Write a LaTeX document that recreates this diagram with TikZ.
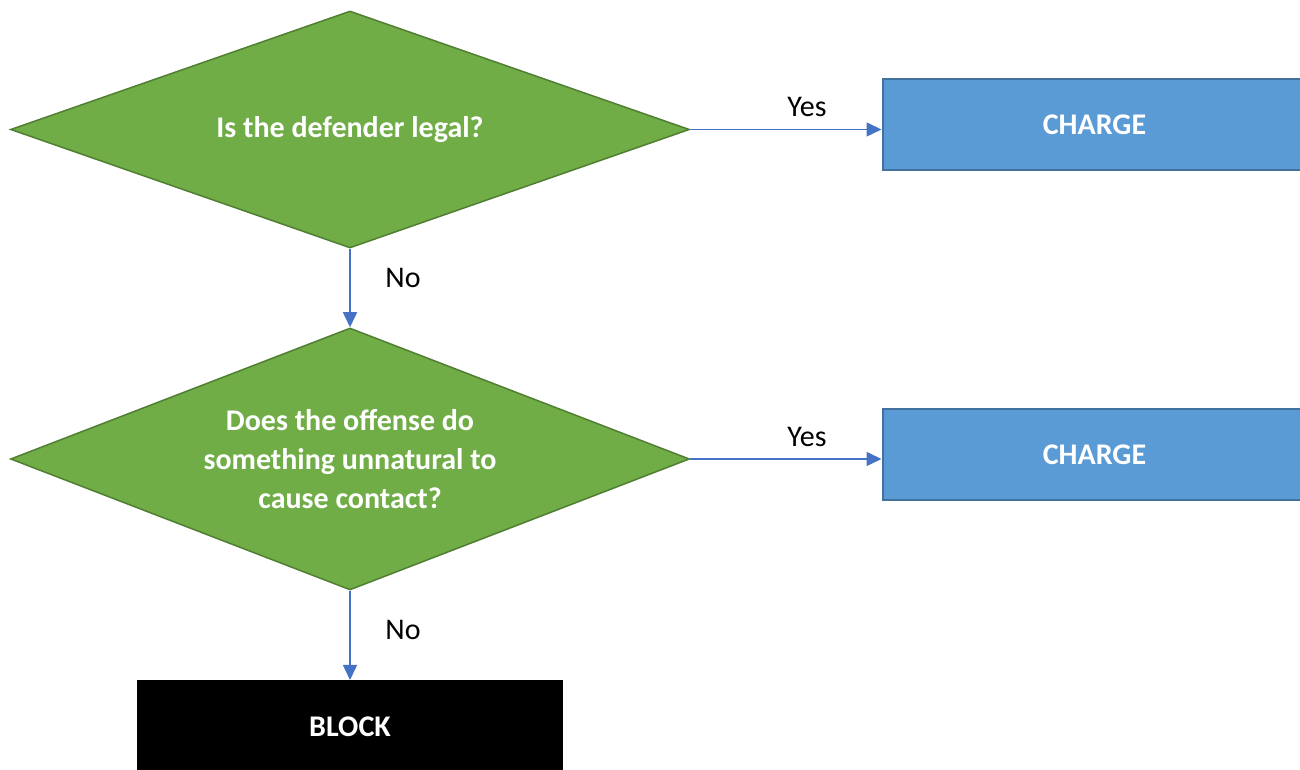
\documentclass[tikz,border=0pt]{standalone}
\usepackage{fontspec}
\setmainfont{Carlito}
\usetikzlibrary{shapes.geometric}
\usetikzlibrary{arrows.meta}
\definecolor{askgreen}{HTML}{70AD47}
\definecolor{askedge}{HTML}{507E32}
\definecolor{callblue}{HTML}{5B9BD5}
\definecolor{calledge}{HTML}{41719C}
\definecolor{flowblue}{HTML}{4472C4}
\tikzset{
  question/.style={diamond,draw=askedge,fill=askgreen,line width=0.75pt,
    minimum width=339.5pt,minimum height=118.5pt,aspect=2.86,inner sep=0pt,
    text=white,align=center,font=\fontsize{15pt}{19.5pt}\selectfont\bfseries},
  verdict/.style={rectangle,draw=calledge,fill=callblue,line width=1pt,
    minimum width=212pt,minimum height=45.5pt,
    text=white,font=\fontsize{15pt}{18pt}\selectfont\bfseries},
  flow/.style={-{Triangle[length=7.5pt,width=7pt]},color=flowblue,line width=0.75pt},
  answer/.style={text=black,font=\fontsize{15pt}{18pt}\selectfont},
}
\begin{document}
\begin{tikzpicture}
      \useasboundingbox (0,0) rectangle (650pt,385pt);
      \node[question] (legal) at (175pt,320.25pt) {Is the defender legal?};
      \node[question,node distance=164.75pt,below of=legal,minimum height=131pt,aspect=2.59] (unnatural)
        {Does the offense do\\something unnatural to\\cause contact?};
      \node[verdict,node distance=372.25pt,right of=legal,yshift=2.5pt] (charge1) {CHARGE};
      \node[verdict,node distance=372.25pt,right of=unnatural,yshift=2.25pt] (charge2) {CHARGE};
      \node[verdict,node distance=133.75pt,below of=unnatural,draw=black,fill=black] (block) {BLOCK};

      \path[flow] (legal.east) edge node[answer,above=2.5pt,pos=0.61] {Yes} (legal.east -| charge1.west);
      \path[flow] (unnatural.east) edge node[answer,above=2.5pt,pos=0.61] {Yes} (unnatural.east -| charge2.west);
      \path[flow] (legal.south) edge node[answer,right=14pt,pos=0.375] {No} (unnatural.north);
      \path[flow] (unnatural.south) edge node[answer,right=14pt,pos=0.44] {No} (block.north);
\end{tikzpicture}
\end{document}
